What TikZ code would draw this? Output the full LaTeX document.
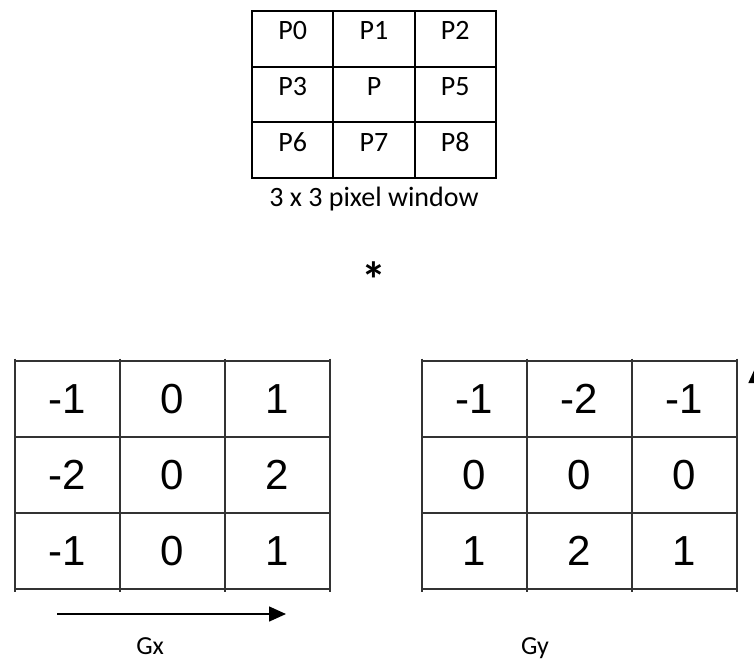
\documentclass[tikz,border=0pt]{standalone}
\usepackage{fontspec}
\setmainfont{Carlito}
\newfontfamily\arialfont{Liberation Sans}
\usepackage{tikz}
\usetikzlibrary{arrows.meta}
\definecolor{gridgrey}{rgb}{0.2, 0.2, 0.2}

\begin{document}
\begin{tikzpicture}[x=1pt, y=-1pt,
	pix/.style={anchor=base, inner sep=0pt, font=\fontsize{28}{28}\selectfont},
	kern/.style={inner sep=0pt, font=\arialfont\fontsize{42}{42}\selectfont},
	lbl/.style={anchor=base, inner sep=0pt, font=\fontsize{26}{26}\selectfont},
	gridline/.style={line width=1.8pt, gridgrey}]
	\useasboundingbox (0,0) rectangle (754,659);
	\clip (0,0) rectangle (754,659);

	% 3 x 3 pixel window
	\draw[line width=2pt] (252,11) rectangle (496,178);
	\draw[line width=2pt] (333.3,11) -- (333.3,178);
	\draw[line width=2pt] (414.7,11) -- (414.7,178);
	\draw[line width=2pt] (252,66.7) -- (496,66.7);
	\draw[line width=2pt] (252,122.3) -- (496,122.3);

	\node[pix] (p0) at (292.7,39) {P0};
	\node[pix] (p1) at (374,39) {P1};
	\node[pix] (p2) at (455.3,39) {P2};
	\node[pix] (p3) at (292.7,95) {P3};
	\node[pix] (p) at (374,95) {P};
	\node[pix] (p5) at (455.3,95) {P5};
	\node[pix] (p6) at (292.7,151) {P6};
	\node[pix] (p7) at (374,151) {P7};
	\node[pix] (p8) at (455.3,151) {P8};
	\node[pix] (window) at (374,206) {3 x 3 pixel window};

	\node[anchor=north, inner sep=0pt, font=\bfseries\fontsize{50}{50}\selectfont] (conv) at (374,262) {*};

	% {Gx}
	\draw[gridline] (15,361) rectangle (330,589);
	\draw[gridline] (15,358.5) -- (15,591.5);
	\draw[gridline] (120,358.5) -- (120,591.5);
	\draw[gridline] (225,358.5) -- (225,591.5);
	\draw[gridline] (330,358.5) -- (330,591.5);
	\draw[gridline] (15,437) -- (330,437);
	\draw[gridline] (15,513) -- (330,513);

	\node[kern] (gx1) at (67.5,399) {-1};
	\node[kern] (gx2) at (172.5,399) {0};
	\node[kern] (gx3) at (277.5,399) {1};
	\node[kern] (gx4) at (67.5,475) {-2};
	\node[kern] (gx5) at (172.5,475) {0};
	\node[kern] (gx6) at (277.5,475) {2};
	\node[kern] (gx7) at (67.5,551) {-1};
	\node[kern] (gx8) at (172.5,551) {0};
	\node[kern] (gx9) at (277.5,551) {1};

	% {Gy}
	\draw[gridline] (422,361) rectangle (737,589);
	\draw[gridline] (422,358.5) -- (422,591.5);
	\draw[gridline] (527,358.5) -- (527,591.5);
	\draw[gridline] (632,358.5) -- (632,591.5);
	\draw[gridline] (737,358.5) -- (737,591.5);
	\draw[gridline] (422,437) -- (737,437);
	\draw[gridline] (422,513) -- (737,513);

	\node[kern] (gy1) at (474.5,399) {-1};
	\node[kern] (gy2) at (579.5,399) {-2};
	\node[kern] (gy3) at (684.5,399) {-1};
	\node[kern] (gy4) at (474.5,475) {0};
	\node[kern] (gy5) at (579.5,475) {0};
	\node[kern] (gy6) at (684.5,475) {0};
	\node[kern] (gy7) at (474.5,551) {1};
	\node[kern] (gy8) at (579.5,551) {2};
	\node[kern] (gy9) at (684.5,551) {1};

	% directions
	\coordinate (gxstart) at (57,614);
	\coordinate (gxend) at (286,614);
	\draw[line width=1.5pt, -{Triangle[length=17pt, width=15pt]}] (gxstart) -- (gxend);

	\coordinate (gystart) at (756,440);
	\coordinate (gyend) at (756,366);
	\draw[line width=1.5pt, -{Triangle[length=17pt, width=15pt]}] (gystart) -- (gyend);

	\node[lbl] (gxlabel) at (150,654) {Gx};
	\node[lbl] (gylabel) at (535,654) {Gy};
\end{tikzpicture}
\end{document}
